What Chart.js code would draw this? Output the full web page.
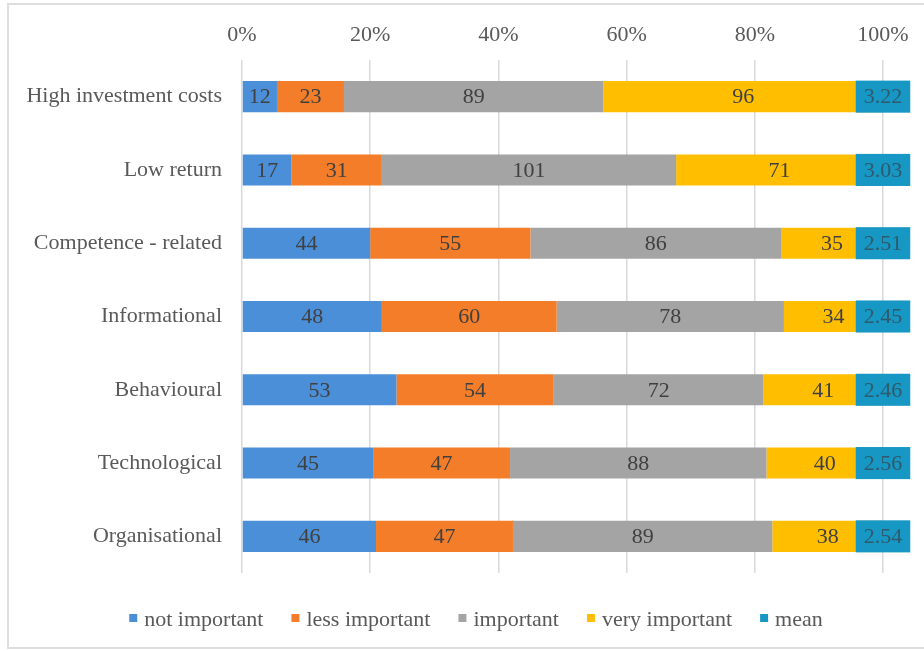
<!DOCTYPE html>
<html>
<head>
<meta charset="utf-8">
<title>Barriers</title>
<script src="https://cdn.jsdelivr.net/npm/chart.js@4.4.0/dist/chart.umd.min.js"></script>
<style>
  html, body { margin: 0; padding: 0; background: #fff; }
  canvas { display: block; }
</style>
</head>
<body>
<canvas id="myChart" width="924" height="651"></canvas>
<script>
const barriers = ["High investment costs", "Low return", "Competence - related", "Informational", "Behavioural", "Technological", "Organisational"];
const notImportant = [12, 17, 44, 48, 53, 45, 46];
const lessImportant = [23, 31, 55, 60, 54, 47, 47];
const important = [89, 101, 86, 78, 72, 88, 89];
const veryImportant = [96, 71, 35, 34, 41, 40, 38];
const means = [3.22, 3.03, 2.51, 2.45, 2.46, 2.56, 2.54];
const xTicks = [0, 20, 40, 60, 80, 100];

const seriesNames = ["not important", "less important", "important", "very important", "mean"];
const barColors = ["#4a8fd8", "#f47d2a", "#a5a4a4", "#ffbf00", "#1797c4"];

const serif = '"Liberation Serif", "Times New Roman", serif';
const textGray = '#595959';

// answers per barrier, used to turn counts into shares of 100%
const counts = [notImportant, lessImportant, important, veryImportant];
const totals = barriers.map((b, i) => counts.reduce((s, arr) => s + arr[i], 0));
const share = arr => arr.map((v, i) => v / totals[i] * 100);

// count labels in the middle of each segment, mean in a box at the bar end
const barLabels = {
  id: 'barLabels',
  afterDatasetsDraw(chart) {
    const ctx = chart.ctx;
    ctx.save();
    ctx.font = '22px ' + serif;
    ctx.textAlign = 'center';
    ctx.textBaseline = 'middle';
    ctx.fillStyle = '#404040';
    chart.data.datasets.forEach((ds, d) => {
      chart.getDatasetMeta(d).data.forEach((bar, i) => {
        ctx.fillText(counts[d][i], (bar.x + bar.base) / 2, bar.y + 1);
      });
    });
    const last = chart.getDatasetMeta(chart.data.datasets.length - 1).data;
    last.forEach((bar, i) => {
      const txt = means[i].toFixed(2);
      const w = ctx.measureText(txt).width + 16;
      const h = bar.height + 1;
      ctx.fillStyle = barColors[4];
      ctx.fillRect(bar.x - w / 2, bar.y - h / 2, w, h);
      ctx.fillStyle = '#2f5a6b';
      ctx.fillText(txt, bar.x, bar.y + 1);
    });
    ctx.restore();
  }
};

// outline round the figure and the legend row underneath
const frameAndLegend = {
  id: 'frameAndLegend',
  beforeDraw(chart) {
    const ctx = chart.ctx;
    ctx.save();
    ctx.fillStyle = '#fff';
    ctx.fillRect(0, 0, chart.width, chart.height);
    ctx.strokeStyle = '#dedede';
    ctx.lineWidth = 2;
    ctx.beginPath();
    ctx.moveTo(chart.width, 4);
    ctx.lineTo(8, 4);
    ctx.lineTo(8, 648);
    ctx.lineTo(chart.width, 648);
    ctx.stroke();
    ctx.restore();
  },
  afterDraw(chart) {
    const ctx = chart.ctx;
    ctx.save();
    ctx.font = '22px ' + serif;
    ctx.textBaseline = 'alphabetic';
    ctx.textAlign = 'left';
    const box = 7, gap = 8, spacing = 28;
    const widths = seriesNames.map(n => ctx.measureText(n).width);
    const total = widths.reduce((s, w) => s + w + box + gap, 0) + spacing * (seriesNames.length - 1);
    let x = 476 - total / 2;
    const y = 626;
    seriesNames.forEach((name, i) => {
      ctx.fillStyle = barColors[i];
      ctx.fillRect(x, y - 12, box + 1, box + 1);
      x += box + gap;
      ctx.fillStyle = textGray;
      ctx.fillText(name, x, y);
      x += widths[i] + spacing;
    });
    ctx.restore();
  }
};

new Chart("myChart", {
  type: "bar",
  data: {
    labels: barriers,
    datasets: counts.map((arr, d) => ({
      label: seriesNames[d],
      data: share(arr),
      backgroundColor: barColors[d],
      borderWidth: 0,
      barPercentage: 0.424,
      categoryPercentage: 1
    }))
  },
  options: {
    indexAxis: 'y',
    responsive: false,
    animation: false,
    layout: { padding: { left: 0, right: 41, top: 0, bottom: 78 } },
    plugins: {
      legend: { display: false },
      tooltip: { enabled: false }
    },
    scales: {
      x: {
        type: 'linear',
        position: 'top',
        stacked: true,
        min: 0,
        max: 100,
        afterBuildTicks: scale => { scale.ticks = xTicks.map(v => ({ value: v })); },
        afterFit: scale => { scale.height = 60; },
        ticks: {
          callback: v => v + '%',
          color: textGray,
          font: { family: serif, size: 22 },
          padding: 12,
          maxRotation: 0
        },
        grid: { color: '#d9d9d9', lineWidth: 1.5, drawTicks: false },
        border: { display: false }
      },
      y: {
        stacked: true,
        afterFit: scale => { scale.width = 242; },
        ticks: {
          color: textGray,
          font: { family: serif, size: 22 },
          padding: 20
        },
        grid: { display: false, drawTicks: false },
        border: { display: false }
      }
    }
  },
  plugins: [frameAndLegend, barLabels]
});
</script>
</body>
</html>
